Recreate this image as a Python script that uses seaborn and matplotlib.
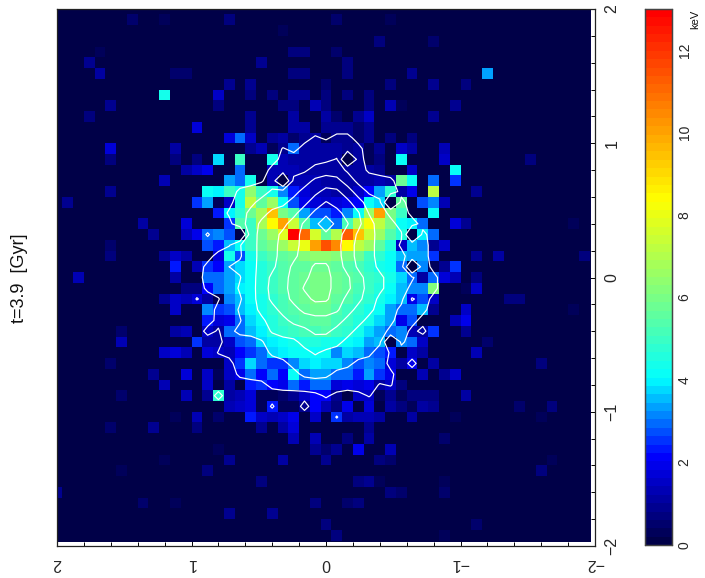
import numpy as np
import pandas as pd
import matplotlib
matplotlib.use("Agg")
import matplotlib.pyplot as plt
from matplotlib.colors import LinearSegmentedColormap
from matplotlib.patches import Rectangle
import seaborn as sns

sns.set_style("white")
plt.rcParams['font.family'] = ['Liberation Sans', 'DejaVu Sans']

GRID_SIZE = 51
FIRST_CORE_ROW = 11
FIRST_CORE_COL = 12

# projected temperature (keV) read per cell; each core row covers columns 12..39
core_j11 = [0,1.7,0,0,0,0,1.0,0,0,0,1.1,1.1,0,1.0,1.0,1.0,.5,1.0,0,0,0,0,0,0,0,0,0,0]
core_j12 = [0,0,0,0,1.7,2.9,1.5,0,1.0,1.1,.5,1.0,1.1,.3,1.0,1.0,.5,.9,0,.8,0,.8,0,0,0,0,0,0]
core_j13 = [0,0,0,0,0,0,1.0,1.3,.3,1.0,3.0,1.1,1.1,1.1,1.1,1.0,1.1,.4,1.0,0,1.5,1.1,0,0,1.3,0,0,0]
core_j14 = [0,.7,0,3.8,0,4.9,0,0,4.3,1.3,1.1,1.1,1.1,1.1,1.1,0,1.1,.4,.8,0,4.2,0,0,0,1.5,0,0,0]
core_j15 = [1.2,1.5,2.0,0,0,3.0,0,0,1.4,1.4,1.3,1.2,1.2,1.2,1.2,1.2,1.2,1.1,1.0,0,0,1.5,0,0,0,4.2,0,0]
core_j16 = [0,0,0,0,3.3,3.0,4.3,0,1.4,0,1.3,1.3,1.3,1.2,1.2,1.2,1.2,1.1,1.3,1.1,5.8,4.2,0,3.0,0,2.6,0,0]
core_j17 = [0,0,4.1,4.0,4.9,4.4,6.3,4.9,4.3,3.1,2.3,1.7,1.4,1.3,1.2,1.2,1.5,2.2,3.3,4.7,1.1,2.0,0,7.2,0,0,0,1.0]
core_j18 = [0,2.5,3.3,.4,1.6,4.4,7.2,5.6,6.6,4.2,2.8,1.9,1.7,1.6,1.7,1.9,2.2,4.1,3.8,0,5.5,0,2.7,3.2,1.3,0,0,0]
core_j19 = [0,0,0,2.3,4.0,4.7,5.8,6.9,9.4,6.0,5.4,3.4,2.7,2.7,2.4,3.2,4.2,6.5,10,6.0,5.0,0,0,4.1,0,0,0,0]
core_j20 = [1.8,0,0,0,2.5,5.4,5.0,6.9,8.4,10,7.4,5.3,3.6,3.5,3.0,5.2,7.0,8.3,7.3,6,4.2,4.0,3.0,0,0,1.7,1.0,0]
core_j21 = [1.4,1.9,3.0,3.2,2.7,0,5.0,5.7,6.7,7.8,13,11,7.6,5.5,7,11.3,9.5,7.5,6.5,5.4,4.5,0,4.0,3.0,0,0,0,0]
core_j22 = [0,0,2.7,2.4,3.5,4.1,5,5.5,6,6.5,7.5,8,10,11.5,10.5,8.4,7.2,6.5,5.5,4.5,1.5,3.5,3.2,.9,1.5,0,0,0]
core_j23 = [1.2,0,0,1.7,4.3,2.7,4.3,5,5.3,5.5,5.8,6.2,6.3,6.4,6.2,6,5.7,5,4.7,4.2,3.5,3.3,3.4,2.5,0,0,0,1.0]
core_j24 = [0,1.3,2.6,2.2,3.4,3.8,4.2,4.5,5,5.3,5.5,5.5,5.7,5.8,5.6,5.4,5.2,4.8,4.4,4.2,3,0,3.2,.4,.9,2.6,0,0]
core_j25 = [0,0,2.9,3,3.3,3.7,4.2,4.6,5,5.4,5.6,5.8,6,6,5.8,5.6,5.3,5,4.7,4.3,3.7,3,1.2,3,1.7,1.4,0,.7]
core_j26 = [.7,.7,2.2,3,3.4,3.9,4.1,4.5,4.9,5.3,5.6,5.8,6,6,5.8,5.5,5.2,4.9,4.5,4.2,3.5,3.1,3.1,6.2,0,0,.4,1.6]
core_j27 = [1.4,1.8,1.1,.4,3.2,3.6,4.2,4.4,4.8,5.2,5.5,5.7,5.9,6,5.6,5.3,5,4.7,4.3,3.9,3.5,2,2.8,1.6,0,0,0,0]
core_j28 = [0,0,3.2,2.5,2.7,3.5,3.9,4.3,4.7,5.1,5.4,5.6,5.7,5.8,5.4,5,4.8,4.4,4.2,3.3,3,2.9,3.6,1,0,0,1.5,0]
core_j29 = [0,0,2.4,1.8,1.9,3,3.7,4.2,4.6,5,5.2,5.4,5.5,5.6,5.2,4.9,4.5,4.3,3.7,3.4,2,2.8,0,0,0,1.3,1.9,0]
core_j30 = [1.3,0,1.5,1.2,3,3,3.6,4,4.5,4.8,5,5.1,5.2,5.3,5,4.7,4.3,3.8,3.4,3,3.2,1.3,1.1,2.6,0,0,1.0,0]
core_j31 = [0,2.6,1.2,1.2,1.5,2.8,2.9,3.7,4,4.2,4.4,4.6,4.6,4.4,4.3,4.2,3.9,3.3,3.5,0,3.2,3,1.5,0,0,0,0,0]
core_j32 = [1.4,0,1.8,1.6,1.3,2.2,2.6,3,3.7,3.9,4.1,4.2,4.1,4.1,3.2,3.8,3.5,3,2.7,2.3,.1,1.6,1.2,0,0,0,0,1.4]
core_j33 = [0,0,0,0,1.5,2.5,3.7,3,2.5,2.6,3.2,3.8,3.9,3.8,3.7,3.2,2.7,3.1,3,1.7,1.2,2,.1,1.1,0,0,0,0]
core_j34 = [1.7,0,1.5,.4,1.5,1.9,3,2.1,3,2.2,4.2,3,3.4,3.3,2.9,2.9,2.3,3.3,2.6,2,0,0,1.4,0,1,1.6,0,0]
core_j35 = [0,0,1.6,0,1.1,.2,2.3,2.5,2.2,2,2.9,2.4,2.9,2.9,1.7,2,1.8,2,1.1,1.6,.8,0,0,0,0,0,0,0]
core_j36 = [1.4,0,.9,4.8,1.1,1.3,1.7,.3,.3,.5,1,1.6,2.2,2.2,.9,.1,1.6,1.5,.3,.9,.4,.8,.8,.8,0,0,1.1,0]
core_j37 = [0,0,0,0,1.4,1.5,1.7,.3,2.3,.4,.4,1,2.2,1.4,.8,2,.1,1.7,.2,1.1,.7,.3,1.1,1.0,0,0,0,0]
core_j38 = [0,1.4,0,.6,0,0,2.3,1.6,1.4,1.5,2,.2,1.6,.2,2.5,1.2,1.3,1.4,1.2,0,0,1.2,0,0,0,.4,0,0]
core_rows = [core_j11, core_j12, core_j13, core_j14, core_j15, core_j16, core_j17, core_j18,
             core_j19, core_j20, core_j21, core_j22, core_j23, core_j24, core_j25, core_j26,
             core_j27, core_j28, core_j29, core_j30, core_j31, core_j32, core_j33, core_j34,
             core_j35, core_j36, core_j37, core_j38]

# isolated cells outside the core: (row, column, keV)
outer_cells = [
    (1,7,.5),(1,10,.4),(1,16,.8),(1,26,.6),(1,31,.4),(2,21,.4),(3,30,.7),(3,35,.6),
    (4,4,.4),(4,22,.8),(4,23,.8),(4,26,.6),(5,3,.9),(5,19,.9),(5,27,.7),
    (6,4,1.1),(6,11,.6),(6,12,.6),(6,22,.7),(6,23,.7),(6,27,.7),(6,33,.9),(6,40,3.3),
    (7,16,1.0),(7,18,.9),(7,25,.6),(7,31,.8),(7,35,1.0),(7,38,.8),
    (8,10,4.3),(8,15,1.5),(8,18,.7),(8,20,.8),(8,22,1),(8,23,1),(8,25,.7),(8,27,.8),(8,29,.8),
    (9,5,1.0),(9,15,.7),(9,21,.8),(9,22,.8),(9,24,1.3),(9,25,.7),(9,29,.7),(9,31,1.4),(9,32,.4),(9,37,1.0),
    (10,3,.7),(10,18,1.0),(10,22,1.1),(10,25,1.2),(10,26,.6),(10,28,.9),(10,29,1.6),(10,35,1.0),
    (13,5,1.7),(13,11,1.2),(14,5,.7),(14,11,.7),(14,44,.7),(16,10,1.4),(17,5,.9),(18,1,1.0),
    (20,8,1.2),(20,48,.4),(21,9,1.0),(22,5,.5),(23,5,.8),(23,10,1),(23,11,1.5),(23,41,1.1),(23,49,.7),
    (24,11,2.3),(25,2,1.4),(25,11,1.2),(27,10,1),(27,11,1.5),(27,42,.8),(27,43,.7),(28,11,1.6),(28,48,.3),
    (30,6,.5),(30,11,1.2),(31,6,1.4),(31,40,.5),(32,9,.2),(32,10,1.6),(32,11,1.7),(33,5,.6),(33,45,.7),
    (34,9,.9),(35,10,1.4),(36,6,.5),(37,43,.5),(37,46,.7),(38,11,.4),(38,45,.4),
    (39,5,.6),(39,9,.9),(39,13,.8),(39,19,1),(39,21,1.1),(39,22,1.7),(39,29,.9),
    (40,22,1.4),(40,24,1.3),(40,27,.8),(40,29,1.2),(40,36,.6),
    (41,15,.4),(41,24,.9),(41,25,.6),(41,26,1.0),(41,28,2.0),(41,31,1.3),
    (42,10,.3),(42,16,1),(42,21,1.1),(42,25,.9),(42,30,.8),(42,31,.6),(42,46,.3),
    (43,6,.3),(43,14,.8),(43,45,.8),(44,19,.8),(44,28,.7),(44,29,.9),(44,30,.3),(44,36,.3),
    (45,0,1),(45,31,.7),(45,32,.6),(45,36,.5),(46,8,.5),(46,11,.3),(46,24,.8),(46,27,.6),(46,28,.8),
    (47,16,.9),(47,20,.9),(48,25,.8),(48,39,.6),(49,8,.2),(49,26,.7),(49,36,.4),(49,46,.2),
]

# contour regions: row -> column spans inside each white line
level1_spans = {12:[(24,24),(26,27)],13:[(23,28)],14:[(21,28)],15:[(20,28)],
                16:[(20,31)],17:[(17,31)],18:[(17,32)],19:[(16,32)],20:[(17,33)],
                21:[(17,34)],22:[(17,34)],23:[(15,34)],24:[(14,34)],25:[(14,35)],
                26:[(14,35)],27:[(16,34)],28:[(15,34)],29:[(15,33)],30:[(16,32)],
                31:[(16,32)],32:[(16,30)],33:[(17,30)],34:[(17,31)],
                35:[(20,29),(31,31)],36:[(25,25),(29,29)]}
level2_spans = {14:[(26,26)],15:[(24,26)],16:[(22,27)],17:[(20,28)],18:[(19,30)],19:[(18,30)],
                20:[(18,31)],21:[(18,32)],22:[(17,31)],23:[(18,32)],24:[(16,32)],25:[(18,33)],
                26:[(17,32)],27:[(18,32)],28:[(17,31)],29:[(18,31)],30:[(16,30)],31:[(20,30)],
                32:[(20,29)],33:[(22,27)],34:[(23,25)]}
level3_spans = {16:[(24,26)],17:[(23,27)],18:[(22,28)],19:[(20,28)],20:[(19,29)],21:[(19,29)],
                22:[(19,29)],23:[(19,29)],24:[(19,29)],25:[(19,30)],26:[(19,30)],27:[(19,29)],
                28:[(19,29)],29:[(20,28)],30:[(20,27)],31:[(23,26)],32:[(24,24)]}
level4_spans = {17:[(25,26)],18:[(24,27)],19:[(23,28)],20:[(22,28)],21:[(21,27)],22:[(21,27)],
                23:[(21,27)],24:[(21,27)],25:[(20,28)],26:[(20,28)],27:[(20,28)],28:[(21,27)],
                29:[(22,26)],30:[(24,25)]}
level5_spans = {18:[(25,25)],19:[(24,26)],20:[(23,27)],21:[(23,26)],22:[(23,26)],23:[(23,26)],
                24:[(22,26)],25:[(22,27)],26:[(22,27)],27:[(22,26)],28:[(23,26)]}
level6_spans = {24:[(24,25)],25:[(24,25)],26:[(23,25)],27:[(24,25)]}
# small closed loops and dark-cell holes: (row, column, level)
contour_spots = [(20,25,7.0),(30,14,.8),(27,13,.55),(32,15,.55),(36,15,.8),(37,20,.6),(37,23,.8),
                 (38,26,.55),(13,21,.55),(33,33,.8),(30,34,.7),(27,33,.4),(21,14,.6),
                 (14,27,-1),(16,21,-1),(18,31,-1),(21,17,-1),(21,33,-1),(24,33,-1),(31,31,-1)]

TICK_VALUES = [2, 1, 0, -1, -2]
TICK_LABELS = ["2", "1", "0", "\u22121", "\u22122"]
MINOR_VALUES = [1.8,1.6,1.4,1.2,.8,.6,.4,.2,-.2,-.4,-.6,-.8,-1.2,-1.4,-1.6,-1.8]
CBAR_TICKS = [0, 2, 4, 6, 8, 10, 12]
KEV_MAX = 13
KEV_STOPS = [0, 2.1, 4.0, 6.1, 8.4, 13]
STOP_COLORS = ["#000048", "#0000ff", "#00ffff", "#7fff7f", "#ffff00", "#ff0000"]

temperature = np.zeros((GRID_SIZE, GRID_SIZE))
for offset, row in enumerate(core_rows):
    temperature[FIRST_CORE_ROW + offset, FIRST_CORE_COL:FIRST_CORE_COL + len(row)] = row
for r, c, v in outer_cells:
    temperature[r, c] = v

levels = np.zeros((GRID_SIZE, GRID_SIZE))
for spans in (level1_spans, level2_spans, level3_spans, level4_spans, level5_spans, level6_spans):
    for r, pieces in spans.items():
        for a, b in pieces:
            levels[r, a:b + 1] += 1
# round off the staircase corners of the span outlines
soft = levels * 0.4
for dr, dc, w in [(0,1,.1),(0,-1,.1),(1,0,.1),(-1,0,.1),(1,1,.05),(1,-1,.05),(-1,1,.05),(-1,-1,.05)]:
    soft += w * np.roll(np.roll(levels, dr, axis=0), dc, axis=1)
levels = soft
for r, c, v in contour_spots:
    levels[r, c] = v

cmap = LinearSegmentedColormap.from_list(
    "kev", [(s / KEV_MAX, col) for s, col in zip(KEV_STOPS, STOP_COLORS)], N=64)

W, H = 705, 578
fig = plt.figure(figsize=(W / 100, H / 100), dpi=100)
ax = fig.add_axes([57 / W, (H - 546) / H, 538 / W, 537 / H])
cax = fig.add_axes([644.5 / W, (H - 545) / H, 27.5 / W, 536 / H])

sns.heatmap(pd.DataFrame(temperature), ax=ax, cmap=cmap, vmin=0, vmax=KEV_MAX,
            cbar_ax=cax, xticklabels=False, yticklabels=False, square=False,
            cbar_kws={"ticks": CBAR_TICKS})
ax.set_xlim(0.5, 50.5)
ax.set_ylim(50.5, 0.5)
ax.set_xlabel("")
ax.set_ylabel("")
ax.collections[0].set_clip_path(Rectangle((0.5, 0.5), 49.63, 49.63, transform=ax.transData))

nodes = np.arange(GRID_SIZE) + 0.5
ax.contour(nodes, nodes, levels, levels=[.5, 1.5, 2.5, 3.5, 4.5, 5.5],
           colors="white", linewidths=0.85)


def to_cell(v):
    return 0.5 + (2 - np.asarray(v, dtype=float)) * 12.5


ax.set_xticks(to_cell(TICK_VALUES))
ax.set_yticks(to_cell(TICK_VALUES))
ax.set_xticks(to_cell(MINOR_VALUES), minor=True)
ax.set_yticks(to_cell(MINOR_VALUES), minor=True)
ax.set_xticklabels(TICK_LABELS, rotation=180, fontsize=11.5, ha="center", va="top")
ax.set_yticklabels(TICK_LABELS, rotation=90, fontsize=11.5, va="center", ha="left")
ax.tick_params(which="both", direction="in", top=True, bottom=True, left=True, right=True,
               labelleft=False, labelright=True, labelbottom=True, color="black", width=0.7)
ax.tick_params(which="major", length=5.8)
ax.tick_params(which="minor", length=3.2)
ax.tick_params(axis="x", which="major", pad=7.5)
ax.tick_params(axis="y", which="major", pad=7)
for spine in ax.spines.values():
    spine.set_visible(True)
    spine.set_color("#222222")
    spine.set_linewidth(0.9)

cax.tick_params(direction="in", left=True, right=True, length=3.6, width=0.7, color="black",
                labelsize=10, pad=4)
for lab in cax.get_yticklabels():
    lab.set_rotation(90)
    lab.set_va("center")
for spine in cax.spines.values():
    spine.set_visible(True)
    spine.set_color("#444444")
    spine.set_linewidth(0.9)
fig.text(695 / W, 1 - 19 / H, "keV", rotation=90, fontsize=8, ha="center", va="center", color="#111111")
fig.text(20 / W, 1 - 278 / H, "t=3.9  [Gyr]", rotation=90, fontsize=13, ha="center", va="center", color="#111111")

fig.savefig("out.png", dpi=100)
